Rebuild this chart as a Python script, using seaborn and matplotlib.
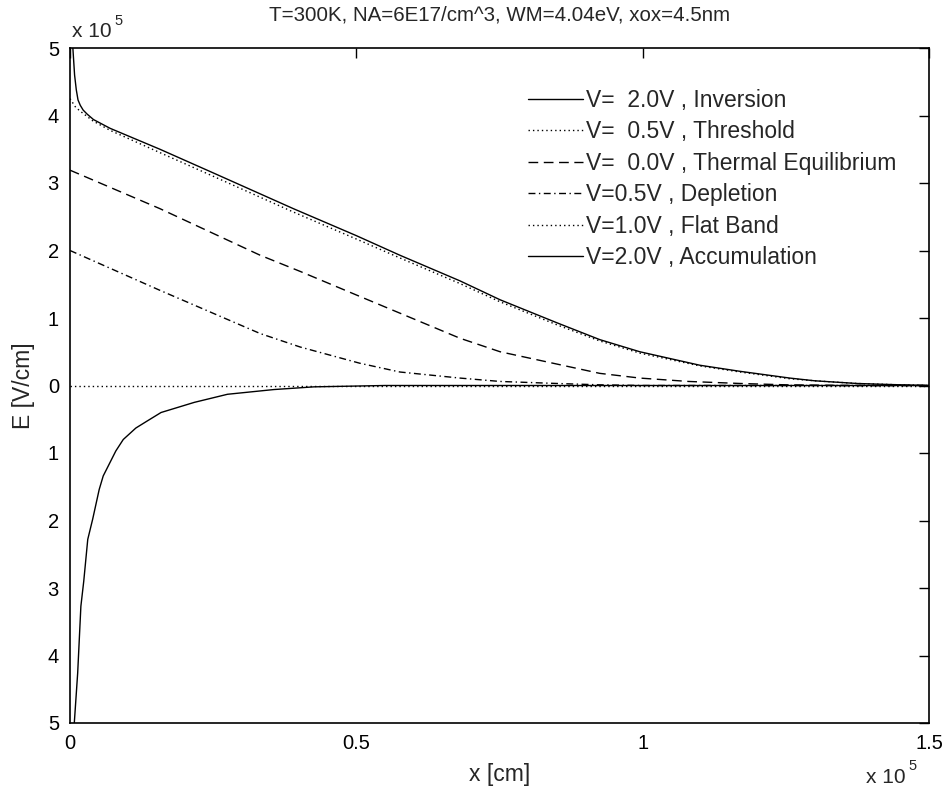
import matplotlib
matplotlib.use("Agg")
import matplotlib.pyplot as plt
import seaborn as sns
import pandas as pd

# Electric field profiles E(x) in the MOS substrate (x in units of 1e-5 cm, E in units of 1e5 V/cm)
inv_x = [0.003, 0.005, 0.008, 0.011, 0.014, 0.018, 0.023, 0.030, 0.041, 0.070, 0.157, 0.250,
         0.390, 0.500, 0.576, 0.681, 0.751, 0.850, 0.925, 0.995, 1.100, 1.170, 1.257, 1.300,
         1.374, 1.450, 1.500]
inv_e = [5.40, 5.00, 4.60, 4.38, 4.23, 4.15, 4.08, 4.02, 3.94, 3.81, 3.50, 3.15,
         2.62, 2.22, 1.93, 1.55, 1.27, 0.93, 0.68, 0.50, 0.30, 0.21, 0.11, 0.07,
         0.03, 0.01, 0.00]

thr_x = [0.000, 0.010, 0.020, 0.040, 0.070, 0.157, 0.250, 0.390, 0.500, 0.576, 0.681, 0.751,
         0.850, 0.925, 0.995, 1.100, 1.170, 1.257, 1.300, 1.374, 1.450, 1.500]
thr_e = [4.25, 4.12, 4.05, 3.92, 3.78, 3.45, 3.10, 2.57, 2.17, 1.89, 1.51, 1.24,
         0.90, 0.66, 0.48, 0.29, 0.20, 0.10, 0.07, 0.03, 0.01, 0.00]

teq_x = [0.000, 0.157, 0.332, 0.402, 0.506, 0.681, 0.751, 0.925, 0.995, 1.080, 1.170, 1.250,
         1.350, 1.500]
teq_e = [3.19, 2.62, 1.93, 1.69, 1.32, 0.70, 0.50, 0.18, 0.11, 0.06, 0.03, 0.01,
         0.00, 0.00]

dep_x = [0.000, 0.157, 0.332, 0.402, 0.506, 0.576, 0.681, 0.751, 0.850, 0.925, 1.000, 1.500]
dep_e = [2.00, 1.41, 0.77, 0.57, 0.33, 0.20, 0.11, 0.06, 0.03, 0.01, 0.00, 0.00]

fb_x = [0.000, 1.500]
fb_e = [0.00, 0.00]

acc_x = [0.004, 0.0075, 0.0134, 0.019, 0.024, 0.031, 0.0396, 0.051, 0.058, 0.080, 0.093,
         0.115, 0.134, 0.159, 0.217, 0.275, 0.356, 0.426, 0.550, 1.500]
acc_e = [-5.40, -5.00, -4.26, -3.27, -2.90, -2.28, -1.98, -1.54, -1.34, -0.97, -0.80,
         -0.63, -0.53, -0.40, -0.25, -0.13, -0.06, -0.02, 0.00, 0.00]

series_labels = ["V=  2.0V , Inversion", "V=  0.5V , Threshold", "V=  0.0V , Thermal Equilibrium",
                 "V=0.5V , Depletion", "V=1.0V , Flat Band", "V=2.0V , Accumulation"]

x_ticks = [0, 0.5, 1.0, 1.5]
x_tick_labels = ["0", "0.5", "1", "1.5"]
y_ticks = [-5, -4, -3, -2, -1, 0, 1, 2, 3, 4, 5]
y_tick_labels = ["5", "4", "3", "2", "1", "0", "1", "2", "3", "4", "5"]

title = "T=300K, NA=6E17/cm^3, WM=4.04eV, xox=4.5nm"

sns.set_style("white")
plt.rcParams["font.family"] = ["Liberation Sans", "DejaVu Sans"]
plt.rcParams["lines.scale_dashes"] = False

W, H = 948, 791
fig = plt.figure(figsize=(W / 100, H / 100), dpi=100)
L, R, T, B = 70, 929, 48, 723
ax = fig.add_axes([L / W, 1 - B / H, (R - L) / W, (B - T) / H])

styles = [
    (inv_x, inv_e, None),
    (thr_x, thr_e, (0, (1, 2.2))),
    (teq_x, teq_e, (0, (7, 4))),
    (dep_x, dep_e, (0, (5, 2.5, 1, 2.5))),
    (fb_x, fb_e, (0, (1, 2.2))),
    (acc_x, acc_e, None),
]

for (xs, es, ls), lab in zip(styles, series_labels):
    df = pd.DataFrame({"x": xs, "E": es})
    kw = {}
    if ls is not None:
        kw["linestyle"] = ls
    sns.lineplot(data=df, x="x", y="E", ax=ax, color="black", linewidth=1.0,
                 estimator=None, sort=False, label=lab, **kw)

ax.set_xlim(0, 1.5)
ax.set_ylim(-5, 5)
ax.set_xticks(x_ticks)
ax.set_xticklabels(x_tick_labels)
ax.set_yticks(y_ticks)
ax.set_yticklabels(y_tick_labels)
ax.tick_params(direction="in", length=7, width=1, labelsize=14.5, top=True, right=True,
               pad=8, colors="black")
for s in ax.spines.values():
    s.set_visible(True)
    s.set_linewidth(1.2)
    s.set_color("black")

ax.set_xlabel("x [cm]", fontsize=16.5, labelpad=7)
ax.set_ylabel("E [V/cm]", fontsize=16.5, labelpad=9)
ax.set_title(title, fontsize=14.8, pad=20)

leg = ax.legend(loc="upper left", bbox_to_anchor=((528 - L) / (R - L), 1 - (89 - T) / (B - T)),
                frameon=False, fontsize=16.5, handlelength=2.4, handletextpad=0.12,
                labelspacing=0.37, borderaxespad=0, borderpad=0)

# exponent markers for both axes
def fx(px):
    return px / W

def fy(py):
    return 1 - py / H

fig.text(fx(72), fy(37), "x 10", fontsize=15, ha="left", va="baseline")
fig.text(fx(114), fy(25), "5", fontsize=10.5, ha="left", va="baseline")
fig.text(fx(866), fy(783), "x 10", fontsize=15, ha="left", va="baseline")
fig.text(fx(908), fy(770), "5", fontsize=10.5, ha="left", va="baseline")

fig.savefig("out.png", dpi=100, facecolor="white")
